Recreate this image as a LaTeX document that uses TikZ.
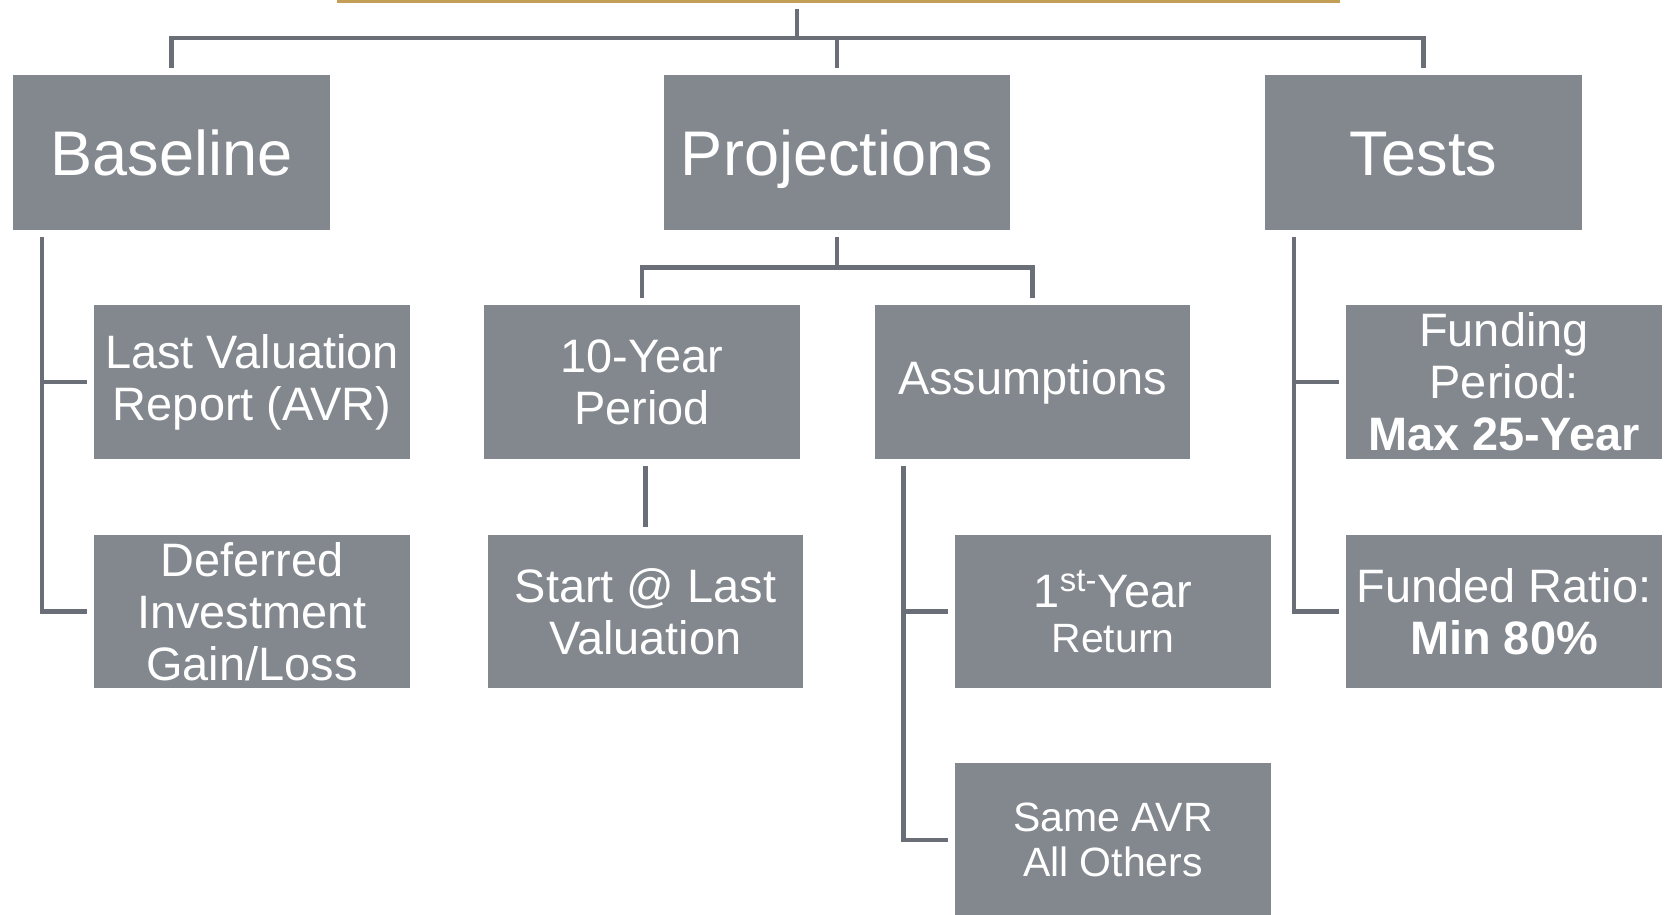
\documentclass[tikz,border=0pt]{standalone}
\usepackage{fontspec}
\setmainfont{Liberation Sans}
\usepackage{tikz}
\usetikzlibrary{positioning,calc}
\definecolor{orgGray}{HTML}{83888F}
\definecolor{orgLine}{HTML}{6A6F77}
\definecolor{orgGold}{HTML}{C29E56}
\tikzset{
  orgTop/.style={fill=orgGray, minimum width=6.34cm, minimum height=3.1cm,
    inner sep=0pt, text=white, font=\fontsize{35.9pt}{40pt}\selectfont, align=center,
    text height=25.7pt, text depth=0pt},
  orgBox/.style={fill=orgGray, minimum width=6.32cm, minimum height=3.08cm,
    inner sep=0pt, text=white, font=\fontsize{26.7pt}{29.6pt}\selectfont, align=center},
  orgSmall/.style={orgBox, font=\fontsize{23.3pt}{26pt}\selectfont},
  %% Tree links
  orgLink/.style={draw=orgLine, line width=0.09cm},
  orgGap/.style={shorten <=0.14cm, shorten >=0.14cm},
}

\begin{document}
\begin{tikzpicture}[x=0.02cm, y=-0.02cm]
\useasboundingbox (0,0) rectangle (1667,915);

%% Top level
\node[orgTop] (pBase) at ( 171.5,152.5) {Baseline};
\node[orgTop, minimum width=6.92cm] (pProj) at ( 837,152.5) {Projections};
\node[orgTop] (pTest) at (1423.5,152.5) {Tests};

%% Second level
\node[orgBox] (pLast)   at ( 252,382)   {Last Valuation\\Report (AVR)};
\node[orgBox] (pDefer)  at ( 252,611.5) {Deferred\\Investment\\Gain/Loss};
\node[orgBox] (pTen)    at ( 642,382)   {10-Year\\Period};
\node[orgBox] (pStart)  at ( 645.5,611.5) {Start @ Last\\Valuation};
\node[orgBox] (pAssum)  at (1032.5,382) {Assumptions};
\node[orgSmall] (pFirst) at (1113,611.5) {{\fontsize{26.7pt}{29.6pt}\selectfont 1\textsuperscript{st-}Year}\\Return};
\node[orgSmall] (pSame)  at (1113,840)  {Same AVR\\All Others};
\node[orgBox] (pFund)   at (1504,382)   {Funding\\Period:\\\textbf{Max 25-Year}};
\node[orgBox] (pRatio)  at (1504,611.5) {Funded Ratio:\\\textbf{Min 80\%}};

%% Title rule and root
\coordinate (cGoldL) at (337,1.5);
\coordinate (cGoldR) at (1340,1.5);
\draw[orgGold, line width=0.06cm] (cGoldL) -- (cGoldR);
\coordinate (cRoot) at (797,9);
\coordinate (cBar) at (797,38);
\draw[orgLink] (cRoot) -- (cBar);
\foreach \n in {pBase, pProj, pTest}
  \draw[orgLink, shorten >=0.14cm] (cBar) -| (\n.north);

%% Side spines
\foreach \p/\c in {pBase/pLast, pBase/pDefer, pAssum/pFirst, pAssum/pSame, pTest/pFund, pTest/pRatio}
  \draw[orgLink, orgGap] ([xshift=0.59cm]\p.south west) |- (\c.west);

%% Projections branch
\draw[orgLink, orgGap] (pProj.south) -- ++(0,37) -| (pTen.north);
\draw[orgLink, orgGap] (pProj.south) -- ++(0,37) -| (pAssum.north);
\draw[orgLink, orgGap] (pTen.south -| pStart.north) -- (pStart.north);

\end{tikzpicture}
\end{document}
